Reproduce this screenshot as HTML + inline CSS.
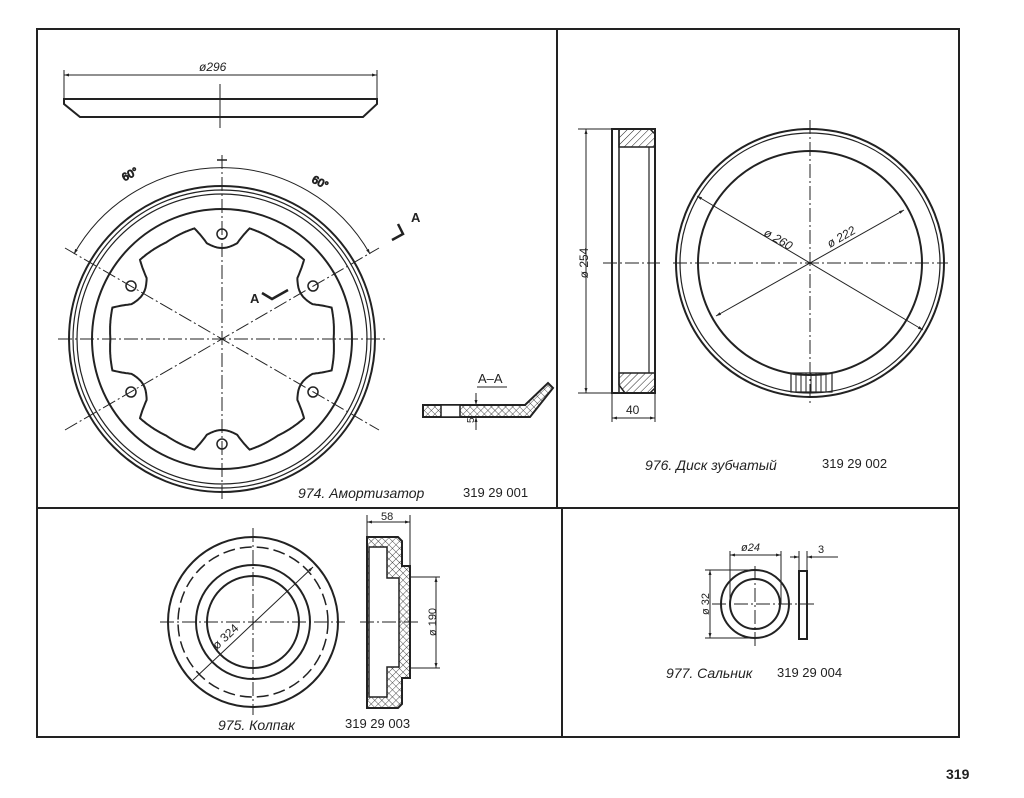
<!DOCTYPE html>
<html><head><meta charset="utf-8"><style>
html,body{margin:0;padding:0;background:#fff;}
svg{display:block;}
text{font-family:"Liberation Sans","DejaVu Sans",sans-serif;fill:#222;}
.it{font-style:italic;}
</style></head><body>
<svg width="1024" height="798" viewBox="0 0 1024 798" xmlns="http://www.w3.org/2000/svg">
<defs>
<pattern id="h" width="5" height="5" patternUnits="userSpaceOnUse" patternTransform="rotate(45)"><line x1="0" y1="0" x2="0" y2="5" stroke="#222" stroke-width="1"/></pattern>
<pattern id="x" width="5" height="5" patternUnits="userSpaceOnUse" patternTransform="rotate(45)"><line x1="0" y1="0" x2="0" y2="5" stroke="#222" stroke-width="0.8"/><line x1="0" y1="0" x2="5" y2="0" stroke="#222" stroke-width="0.8"/></pattern>
<marker id="a" viewBox="0 0 10 10" refX="10" refY="5" markerWidth="7" markerHeight="5" orient="auto-start-reverse"><path d="M0,2 L10,5 L0,8 z" fill="#222"/></marker>
</defs>
<g fill="none" stroke="#222">
<rect x="37" y="29" width="922" height="708" stroke-width="2"/>
<line x1="557" y1="29" x2="557" y2="508" stroke-width="2"/>
<line x1="562" y1="508" x2="562" y2="737" stroke-width="2"/>
<line x1="37" y1="508" x2="959" y2="508" stroke-width="2"/>

<line x1="64" y1="70" x2="64" y2="99" stroke-width="1"/>
<line x1="377" y1="70" x2="377" y2="99" stroke-width="1"/>
<line x1="64" y1="75" x2="377" y2="75" stroke-width="1" marker-start="url(#a)" marker-end="url(#a)"/>
<path d="M64,99 L377,99 L377,104 L363,117 L80,117 L64,104 Z" stroke-width="2"/>
<line x1="220" y1="84" x2="220" y2="128" stroke-width="1"/>

<circle cx="222" cy="339" r="153" stroke-width="2"/>
<circle cx="222" cy="339" r="149" stroke-width="1.2"/>
<circle cx="222" cy="339" r="145" stroke-width="1.2"/>
<circle cx="222" cy="339" r="130" stroke-width="2"/>
<path id="lobe" stroke-width="2"/>
<g stroke-width="1" stroke-dasharray="14,3,2,3">
<line x1="58" y1="339" x2="388" y2="339"/>
<line x1="222" y1="155" x2="222" y2="500"/>
<line x1="65" y1="248" x2="379" y2="430"/>
<line x1="65" y1="430" x2="379" y2="248"/>
</g>
<g stroke-width="1.5">
<circle cx="222" cy="234" r="5"/><circle cx="222" cy="444" r="5"/>
<circle cx="131" cy="286" r="5"/><circle cx="313" cy="286" r="5"/>
<circle cx="131" cy="392" r="5"/><circle cx="313" cy="392" r="5"/>
</g>
<path d="M74,254 A170,170 0 0 1 370,254" stroke-width="1" marker-start="url(#a)" marker-end="url(#a)"/>
<line x1="217" y1="160" x2="227" y2="160" stroke-width="1.5"/>
<text x="122" y="178" font-size="11" transform="rotate(-28 130 175)">60°</text>
<text x="312" y="186" font-size="11" transform="rotate(28 320 182)">60°</text>
<path d="M392,240 L403,234 L398,224" stroke-width="2.5"/>
<text x="411" y="222" font-size="13" font-weight="bold" stroke="none" fill="#222">A</text>
<path d="M262,293 L272,299 L288,290" stroke-width="2.5"/>
<text x="250" y="303" font-size="13" font-weight="bold" stroke="none" fill="#222">A</text>

<text x="478" y="383" font-size="13" stroke="none" fill="#222">A–A</text>
<line x1="477" y1="387" x2="507" y2="387" stroke-width="1"/>
<path d="M423,405 L525,405 L548,383 L553,388 L530,417 L423,417 Z" fill="url(#x)" stroke-width="2"/>
<rect x="441" y="405" width="19" height="12" fill="#fff" stroke-width="1.5"/>
<line x1="476" y1="393" x2="476" y2="405" stroke-width="1" marker-end="url(#a)"/>
<line x1="476" y1="430" x2="476" y2="417" stroke-width="1" marker-end="url(#a)"/>
<text x="471" y="426" font-size="10" stroke="none" fill="#222" transform="rotate(-90 471 423)">5</text>

<rect x="612" y="129" width="43" height="264" stroke-width="2"/>
<path d="M619,129 L650,129 L655,134 L655,147 L619,147 Z" fill="url(#h)" stroke-width="1.5"/>
<path d="M619,373 L655,373 L655,388 L650,393 L625,393 L619,385 Z" fill="url(#h)" stroke-width="1.5"/>
<line x1="619" y1="129" x2="619" y2="393" stroke-width="1.5"/>
<line x1="649" y1="147" x2="649" y2="373" stroke-width="1.2"/>
<line x1="578" y1="129" x2="612" y2="129" stroke-width="1"/>
<line x1="578" y1="393" x2="612" y2="393" stroke-width="1"/>
<line x1="586" y1="129" x2="586" y2="393" stroke-width="1" marker-start="url(#a)" marker-end="url(#a)"/>
<text x="583" y="268" font-size="12" stroke="none" fill="#222" transform="rotate(-90 583 263)" text-anchor="middle">ø 254</text>
<line x1="612" y1="393" x2="612" y2="422" stroke-width="1"/>
<line x1="655" y1="393" x2="655" y2="422" stroke-width="1"/>
<line x1="612" y1="418" x2="655" y2="418" stroke-width="1" marker-start="url(#a)" marker-end="url(#a)"/>
<text x="626" y="414" font-size="12" stroke="none" fill="#222">40</text>
<line x1="603" y1="263" x2="660" y2="263" stroke-width="1" stroke-dasharray="14,3,2,3"/>

<circle cx="810" cy="263" r="134" stroke-width="2"/>
<circle cx="810" cy="263" r="130" stroke-width="1.2"/>
<circle cx="810" cy="263" r="112" stroke-width="2"/>
<g stroke-width="1" stroke-dasharray="14,3,2,3">
<line x1="673" y1="263" x2="948" y2="263"/>
<line x1="810" y1="120" x2="810" y2="405"/>
</g>
<line x1="697" y1="196" x2="923" y2="330" stroke-width="1" marker-start="url(#a)" marker-end="url(#a)"/>
<line x1="716" y1="316" x2="904" y2="210" stroke-width="1" marker-start="url(#a)" marker-end="url(#a)"/>
<text x="763" y="235" font-size="12" stroke="none" fill="#222" class="it" transform="rotate(30 763 235)">ø 260</text>
<text x="830" y="248" font-size="12" stroke="none" fill="#222" class="it" transform="rotate(-30 830 248)">ø 222</text>
<rect x="791" y="373" width="41" height="19" stroke-width="1.2"/>
<g stroke-width="1"><line x1="796" y1="373" x2="796" y2="392"/><line x1="801" y1="373" x2="801" y2="392"/><line x1="806" y1="373" x2="806" y2="392"/><line x1="811" y1="373" x2="811" y2="392"/><line x1="816" y1="373" x2="816" y2="392"/><line x1="821" y1="373" x2="821" y2="392"/><line x1="826" y1="373" x2="826" y2="392"/></g>

<circle cx="253" cy="622" r="85" stroke-width="2"/>
<circle cx="253" cy="622" r="75" stroke-width="1.5" stroke-dasharray="12,5"/>
<circle cx="253" cy="622" r="57" stroke-width="2"/>
<circle cx="253" cy="622" r="46" stroke-width="2"/>
<g stroke-width="1" stroke-dasharray="14,3,2,3">
<line x1="160" y1="622" x2="345" y2="622"/>
<line x1="253" y1="528" x2="253" y2="715"/>
</g>
<line x1="193" y1="680" x2="313" y2="567" stroke-width="1" marker-end="url(#a)"/>
<text x="217" y="650" font-size="12" stroke="none" fill="#222" transform="rotate(-43 217 650)">ø 324</text>
<path d="M367,537 L398,537 L402,541 L402,566 L410,566 L410,678 L402,678 L402,704 L398,708 L367,708 Z" fill="url(#x)" stroke-width="2"/>
<path d="M369,547 L387,547 L387,578 L399,578 L399,667 L387,667 L387,697 L369,697 Z" fill="#fff" stroke-width="1.5"/>
<line x1="367" y1="515" x2="367" y2="537" stroke-width="1"/>
<line x1="410" y1="515" x2="410" y2="566" stroke-width="1"/>
<line x1="367" y1="522" x2="410" y2="522" stroke-width="1" marker-start="url(#a)" marker-end="url(#a)"/>
<text x="381" y="520" font-size="11" stroke="none" fill="#222">58</text>
<line x1="410" y1="577" x2="440" y2="577" stroke-width="1"/>
<line x1="410" y1="668" x2="440" y2="668" stroke-width="1"/>
<line x1="436" y1="577" x2="436" y2="668" stroke-width="1" marker-start="url(#a)" marker-end="url(#a)"/>
<text x="431" y="627" font-size="11" stroke="none" fill="#222" transform="rotate(-90 431 622)" text-anchor="middle">ø 190</text>
<line x1="360" y1="622" x2="420" y2="622" stroke-width="1" stroke-dasharray="14,3,2,3"/>

<circle cx="755" cy="604" r="34" stroke-width="2"/>
<circle cx="755" cy="604" r="25" stroke-width="2"/>
<g stroke-width="1" stroke-dasharray="14,3,2,3">
<line x1="712" y1="604" x2="815" y2="604"/>
<line x1="755" y1="566" x2="755" y2="646"/>
</g>
<rect x="799" y="571" width="8" height="68" stroke-width="2"/>
<line x1="730" y1="551" x2="730" y2="604" stroke-width="1"/>
<line x1="781" y1="551" x2="781" y2="604" stroke-width="1"/>
<line x1="730" y1="555" x2="781" y2="555" stroke-width="1" marker-start="url(#a)" marker-end="url(#a)"/>
<text x="741" y="551" font-size="11" class="it" stroke="none" fill="#222">ø24</text>
<line x1="799" y1="551" x2="799" y2="571" stroke-width="1"/><line x1="807" y1="551" x2="807" y2="571" stroke-width="1"/>
<line x1="790" y1="557" x2="799" y2="557" stroke-width="1" marker-end="url(#a)"/>
<line x1="838" y1="557" x2="807" y2="557" stroke-width="1" marker-end="url(#a)"/>
<text x="818" y="553" font-size="11" stroke="none" fill="#222">3</text>
<line x1="705" y1="570" x2="755" y2="570" stroke-width="1"/>
<line x1="705" y1="638" x2="755" y2="638" stroke-width="1"/>
<line x1="710" y1="570" x2="710" y2="638" stroke-width="1" marker-start="url(#a)" marker-end="url(#a)"/>
<text x="705" y="608" font-size="11" stroke="none" fill="#222" transform="rotate(-90 705 604)" text-anchor="middle">ø 32</text>
</g>

<text x="199" y="71" font-size="12" class="it">ø296</text>
<text x="298" y="498" font-size="14" class="it">974. Амортизатор</text>
<text x="463" y="497" font-size="13">319 29 001</text>
<text x="645" y="470" font-size="14" class="it">976. Диск зубчатый</text>
<text x="822" y="468" font-size="13">319 29 002</text>
<text x="218" y="730" font-size="14" class="it" fill="#777">975. Колпак</text>
<text x="345" y="728" font-size="13">319 29 003</text>
<text x="666" y="678" font-size="14" class="it">977. Сальник</text>
<text x="777" y="677" font-size="13">319 29 004</text>
<text x="946" y="779" font-size="14" font-weight="bold">319</text>
</svg>
<script>
(function(){
var cx=222,cy=339,pts=[];
for(var i=0;i<=720;i++){
 var t=i/720*2*Math.PI, deg=i/2;
 var d=((deg-30)%60+60)%60; if(d>30)d=60-d;
 var r;
 if(d<9){ r=91+ (d/9)*(d/9)*6; }
 else if(d<14){ r=97+(d-9)/5*17; }
 else { r=114 - (d-14)*0.15; }
 pts.push((cx+r*Math.cos(t)).toFixed(1)+","+(cy+r*Math.sin(t)).toFixed(1));
}
document.getElementById('lobe').setAttribute('d','M'+pts.join(' L')+' Z');
})();
</script>
</body></html>
